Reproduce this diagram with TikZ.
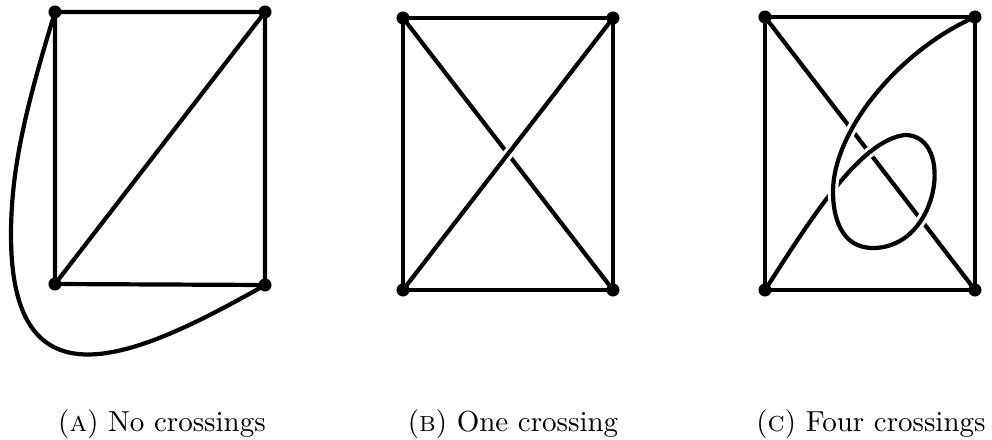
\documentclass[tikz,border=0pt]{standalone}
\begin{document}
\begin{tikzpicture}[x=0.345pt,y=-0.345pt,
  vdot/.style={circle,fill=black,inner sep=0pt,minimum size=4.5pt},
  lnk/.style={line width=1.45pt},
  overln/.style={line width=1.45pt,preaction={draw=white,line width=3.6pt}},
  captext/.style={anchor=base,font=\normalsize}]
\useasboundingbox (0,0) rectangle (992,440);
% ---------- (A) ----------
\coordinate (aTL) at (55,12);
\coordinate (aTR) at (265,12);
\coordinate (aBL) at (55,284);
\coordinate (aBR) at (265,285);
\draw[lnk] (aTL) -- (aTR) -- (aBR) -- (aBL) -- cycle;
\draw[lnk] (aBL) -- (aTR);
\draw[lnk] (aTL) .. controls (25,110) and (11,170) .. (11,235)
  .. controls (11,410) and (130,362) .. (aBR);
\node[vdot] (a1) at (aTL) {};
\node[vdot] (a2) at (aTR) {};
\node[vdot] (a3) at (aBL) {};
\node[vdot] (a4) at (aBR) {};
\node[captext] (capA) at (162,431) {(\textsc{a}) No crossings};
% ---------- (B) ----------
\coordinate (bTL) at (403,18);
\coordinate (bTR) at (613,18);
\coordinate (bBL) at (403,290);
\coordinate (bBR) at (613,290);
\draw[lnk] (bTL) -- (bBR);
\draw[overln] (bBL) -- (bTR);
\draw[lnk] (bTL) -- (bTR) -- (bBR) -- (bBL) -- cycle;
\node[vdot] (b1) at (bTL) {};
\node[vdot] (b2) at (bTR) {};
\node[vdot] (b3) at (bBL) {};
\node[vdot] (b4) at (bBR) {};
\node[captext] (capB) at (513,431) {(\textsc{b}) One crossing};
% ---------- (C) ----------
\coordinate (cTL) at (765,17);
\coordinate (cTR) at (975,17);
\coordinate (cBL) at (765,290);
\coordinate (cBR) at (975,290);
\coordinate (top) at (905,135);
\coordinate (bot) at (873,248);
\draw[lnk] (cTL) -- (cBR);
\draw[overln] (cBL) .. controls (810,220) and (860,140) .. (top);
\draw[overln] (top) .. controls (955,135) and (940,248) .. (bot);
\draw[overln] (bot) .. controls (840,248) and (833,215) .. (833,192)
  .. controls (833,130) and (900,50) .. (cTR);
\draw[lnk] (cTL) -- (cTR) -- (cBR) -- (cBL) -- cycle;
\node[vdot] (c1) at (cTL) {};
\node[vdot] (c2) at (cTR) {};
\node[vdot] (c3) at (cBL) {};
\node[vdot] (c4) at (cBR) {};
\node[captext] (capC) at (871,431) {(\textsc{c}) Four crossings};
\end{tikzpicture}
\end{document}
